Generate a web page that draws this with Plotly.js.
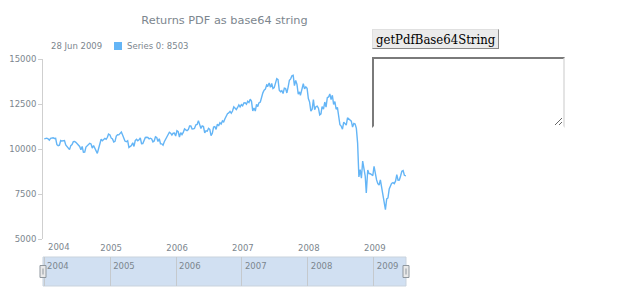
<!DOCTYPE html>
<html>
<head>
<meta charset="utf-8">
<script src="https://cdn.plot.ly/plotly-3.0.1.min.js"></script>
<style>
  html, body { margin: 0; padding: 0; background: #fff; }
  #wrap { position: relative; width: 620px; height: 300px; overflow: hidden; }
  #chart { position: absolute; left: 0; top: 0; width: 620px; height: 300px; }
  #btn { position: absolute; left: 372px; top: 29px; height: 20px; padding: 0 3px; box-sizing: border-box;
         font-family: "DejaVu Serif Condensed", "DejaVu Serif", serif; font-stretch: condensed; font-size: 13px; color: #000; background: #ebebeb;
         border: 1px solid; border-color: #e0e0e0 #8a8a8a #8a8a8a #e0e0e0; border-radius: 0; line-height: 17px; z-index: 5; }
  #ta { position: absolute; left: 372px; top: 57px; width: 193px; height: 71px; box-sizing: border-box; margin: 0;
        border: 2px solid; border-color: #7a7a7a #e4e4e4 #ffffff #7a7a7a; background: #fff; z-index: 5; }
</style>
</head>
<body>
<div id="wrap">
  <div id="chart"></div>
  <button id="btn">getPdfBase64String</button>
  <textarea id="ta"></textarea>
</div>
<script>
// ---------- data ----------
const chartTitle = "Returns PDF as base64 string";
const seriesName = "Series 0";
const dates = [
"2004-01-02","2004-01-09","2004-01-16","2004-01-23","2004-01-30","2004-02-06","2004-02-13","2004-02-20","2004-02-27",
"2004-03-05","2004-03-12","2004-03-19","2004-03-26","2004-04-02","2004-04-09","2004-04-16","2004-04-23","2004-04-30",
"2004-05-07","2004-05-14","2004-05-21","2004-05-28","2004-06-04","2004-06-11","2004-06-18","2004-06-25","2004-07-02",
"2004-07-09","2004-07-16","2004-07-23","2004-07-30","2004-08-06","2004-08-13","2004-08-20","2004-08-27","2004-09-03",
"2004-09-10","2004-09-17","2004-09-24","2004-10-01","2004-10-08","2004-10-15","2004-10-22","2004-10-29","2004-11-05",
"2004-11-12","2004-11-19","2004-11-26","2004-12-03","2004-12-10","2004-12-17","2004-12-23","2004-12-31",
"2005-01-07","2005-01-14","2005-01-21","2005-01-28","2005-02-04","2005-02-11","2005-02-18","2005-02-25","2005-03-04",
"2005-03-11","2005-03-18","2005-03-24","2005-04-01","2005-04-08","2005-04-15","2005-04-22","2005-04-29","2005-05-06",
"2005-05-13","2005-05-20","2005-05-27","2005-06-03","2005-06-10","2005-06-17","2005-06-24","2005-07-01","2005-07-08",
"2005-07-15","2005-07-22","2005-07-29","2005-08-05","2005-08-12","2005-08-19","2005-08-26","2005-09-02","2005-09-09",
"2005-09-16","2005-09-23","2005-09-30","2005-10-07","2005-10-14","2005-10-21","2005-10-28","2005-11-04","2005-11-11",
"2005-11-18","2005-11-25","2005-12-02","2005-12-09","2005-12-16","2005-12-23","2005-12-30",
"2006-01-06","2006-01-13","2006-01-20","2006-01-27","2006-02-03","2006-02-10","2006-02-17","2006-02-24","2006-03-03",
"2006-03-10","2006-03-17","2006-03-24","2006-03-31","2006-04-07","2006-04-13","2006-04-21","2006-04-28","2006-05-05",
"2006-05-12","2006-05-19","2006-05-26","2006-06-02","2006-06-09","2006-06-16","2006-06-23","2006-06-30","2006-07-07",
"2006-07-14","2006-07-21","2006-07-28","2006-08-04","2006-08-11","2006-08-18","2006-08-25","2006-09-01","2006-09-08",
"2006-09-15","2006-09-22","2006-09-29","2006-10-06","2006-10-13","2006-10-20","2006-10-27","2006-11-03","2006-11-10",
"2006-11-17","2006-11-24","2006-12-01","2006-12-08","2006-12-15","2006-12-22","2006-12-29",
"2007-01-05","2007-01-12","2007-01-19","2007-01-26","2007-02-02","2007-02-09","2007-02-16","2007-02-23","2007-03-02",
"2007-03-09","2007-03-16","2007-03-23","2007-03-30","2007-04-05","2007-04-13","2007-04-20","2007-04-27","2007-05-04",
"2007-05-11","2007-05-18","2007-05-25","2007-06-01","2007-06-08","2007-06-15","2007-06-22","2007-06-29","2007-07-06",
"2007-07-13","2007-07-20","2007-07-27","2007-08-03","2007-08-10","2007-08-17","2007-08-24","2007-08-31","2007-09-07",
"2007-09-14","2007-09-21","2007-09-28","2007-10-05","2007-10-12","2007-10-19","2007-10-26","2007-11-02","2007-11-09",
"2007-11-16","2007-11-21","2007-11-30","2007-12-07","2007-12-14","2007-12-21","2007-12-28",
"2008-01-04","2008-01-11","2008-01-18","2008-01-25","2008-02-01","2008-02-08","2008-02-15","2008-02-22","2008-02-29",
"2008-03-07","2008-03-14","2008-03-20","2008-03-28","2008-04-04","2008-04-11","2008-04-18","2008-04-25","2008-05-02",
"2008-05-09","2008-05-16","2008-05-23","2008-05-30","2008-06-06","2008-06-13","2008-06-20","2008-06-27","2008-07-03",
"2008-07-11","2008-07-18","2008-07-25","2008-08-01","2008-08-08","2008-08-15","2008-08-22","2008-08-29","2008-09-05",
"2008-09-12","2008-09-19","2008-09-26","2008-10-03","2008-10-10","2008-10-17","2008-10-24","2008-10-31","2008-11-07",
"2008-11-14","2008-11-20","2008-11-28","2008-12-05","2008-12-12","2008-12-19","2008-12-26",
"2009-01-02","2009-01-09","2009-01-16","2009-01-23","2009-01-30","2009-02-06","2009-02-13","2009-02-20","2009-02-27",
"2009-03-06","2009-03-13","2009-03-20","2009-03-27","2009-04-03","2009-04-09","2009-04-17","2009-04-24","2009-05-01",
"2009-05-08","2009-05-15","2009-05-22","2009-05-29","2009-06-05","2009-06-12","2009-06-19","2009-06-28"
];
const values = [
10560,10580,10600,10568,10488,10593,10628,10620,10584,
10596,10240,10186,10212,10470,10442,10452,10472,10226,
10118,10012,9966,10188,10242,10410,10416,10371,10282,
10214,10140,9962,10140,9815,9825,10110,10195,10260,
10314,10284,10047,10192,10055,9933,9758,10027,10387,
10540,10456,10522,10592,10543,10650,10828,10783,
10603,10558,10393,10427,10716,10796,10785,10841,10941,
10774,10629,10442,10404,10461,10088,10157,10193,10345,
10140,10471,10542,10460,10512,10623,10297,10303,10449,
10641,10651,10641,10558,10600,10559,10397,10447,10679,
10641,10419,10569,10292,10287,10215,10403,10530,10687,
10766,10931,10877,10778,10876,10883,10718,
11012,10959,10667,10907,10793,10919,11115,11061,11022,
11076,11279,11280,11109,11120,11137,11347,11367,11577,
11380,11144,11278,11247,10891,11014,10989,11150,11090,
10739,10868,11219,11240,11088,11381,11284,11464,11392,
11560,11508,11679,11850,11960,12002,12090,11986,12108,
12342,12280,12194,12307,12445,12343,12463,
12398,12556,12566,12488,12653,12581,12768,12647,12114,
12277,12110,12481,12354,12560,12612,12962,13121,13265,
13327,13556,13507,13668,13424,13640,13361,13409,13612,
13908,13851,13266,13182,13240,13079,13379,13358,13114,
13443,13820,13896,14066,14093,13522,13807,13595,13043,
13177,12981,13372,13625,13340,13450,13366,
12800,12606,12099,12207,12743,12182,12348,12381,12266,
11894,11951,12361,12216,12609,12325,12849,12891,13058,
12745,12986,12480,12638,12209,12307,11843,11346,11288,
11100,11496,11370,11326,11734,11659,11628,11544,11220,
11421,11388,11143,10325,8451,8852,8378,9325,8943,
8497,7552,8829,8635,8629,8579,8515,
9034,8599,8281,8077,8001,8280,7850,7366,7063,
6627,7224,7279,7776,8018,8083,8131,8076,8212,
8575,8268,8277,8500,8763,8799,8539,8503
];
const yearTicks = ["2004-01-01","2005-01-01","2006-01-01","2007-01-01","2008-01-01","2009-01-01"];
const yearLabels = ["2004","2005","2006","2007","2008","2009"];
const yTicks = [5000,7500,10000,12500,15000];

// ---------- chart ----------
const gray = "#7c868e";
const blue = "#64b5f6";
const xRange = ["2003-12-26","2009-06-28"];
const monthNames = ["Jan","Feb","Mar","Apr","May","Jun","Jul","Aug","Sep","Oct","Nov","Dec"];
const lastDate = dates[dates.length-1].split("-");
const lastLabel = parseInt(lastDate[2],10) + " " + monthNames[parseInt(lastDate[1],10)-1] + " " + lastDate[0];
const lastValue = values[values.length-1];

const W = 620, H = 300, mL = 43, mR = 214, mT = 59, mB = 14;
const pw = W - mL - mR, ph = H - mT - mB;
const px = v => (v - mL) / pw;          // pixel x -> paper
const py = v => (H - mB - v) / ph;      // pixel y -> paper

// main axis: first label drawn inside the plot edge, others centred on ticks
const mainTickText = yearLabels.map((t, i) => i === 0 ? "" : t);

const traces = [
  { x: dates, y: values, type: "scatter", mode: "lines", xaxis: "x", yaxis: "y",
    line: { color: blue, width: 1.4 }, hoverinfo: "skip", showlegend: false },
  { x: dates, y: values.map(() => null), type: "scatter", mode: "lines", xaxis: "x2", yaxis: "y2",
    hoverinfo: "skip", showlegend: false }
];

const layout = {
  width: W, height: H,
  margin: { l: mL, r: mR, t: mT, b: mB, pad: 0 },
  paper_bgcolor: "rgba(0,0,0,0)", plot_bgcolor: "rgba(0,0,0,0)",
  font: { family: "DejaVu Sans", color: gray, size: 8.5 },
  showlegend: false,
  title: { text: chartTitle, x: 0.5, xref: "paper", xanchor: "center", y: 1 - 20/H, yref: "container", yanchor: "middle",
           font: { family: "DejaVu Sans", size: 11.3, color: gray } },
  xaxis: { type: "date", range: xRange, domain: [0,1], anchor: "y", showgrid: false, zeroline: false, showline: false,
           ticks: "", tickmode: "array", tickvals: yearTicks, ticktext: mainTickText, ticklabelshift: 1, ticklabelstandoff: 2,
           tickfont: { size: 8.5, color: gray }, fixedrange: true },
  yaxis: { range: [5000,15000], domain: [py(239), 1], anchor: "x", showgrid: false, zeroline: false, showline: true,
           linecolor: "#cfcfcf", linewidth: 1, ticks: "outside", ticklen: 4, tickcolor: "#cfcfcf",
           tickmode: "array", tickvals: yTicks, tickformat: "d", tickfont: { size: 8.5, color: gray }, fixedrange: true },
  xaxis2: { type: "date", range: xRange, domain: [0,1], anchor: "y2", side: "top", showgrid: true, gridcolor: "#c5c9cd",
            gridwidth: 1, zeroline: false, showline: false, ticks: "", tickmode: "array", tickvals: yearTicks,
            ticktext: yearLabels, ticklabelposition: "inside right", ticklabelshift: 3,
            tickfont: { size: 8.5, color: gray }, fixedrange: true },
  yaxis2: { range: [0,1], domain: [0, py(257)], anchor: "x2", showgrid: false, zeroline: false, showline: false,
            showticklabels: false, ticks: "", fixedrange: true },
  shapes: [
    { type: "rect", xref: "x2 domain", yref: "y2 domain", x0: 0, x1: 1, y0: 0, y1: 1,
      fillcolor: "#d1e0f2", line: { color: "#c9d3dd", width: 1 }, layer: "below" },
    { type: "rect", xref: "x2 domain", yref: "y2 domain", xsizemode: "pixel", xanchor: 0, x0: -3, x1: 3,
      ysizemode: "pixel", yanchor: 0.5, y0: -6, y1: 6, fillcolor: "#e9e9e9", line: { color: "#8f979e", width: 1 } },
    { type: "line", xref: "x2 domain", yref: "y2 domain", xsizemode: "pixel", xanchor: 0, x0: 0, x1: 0,
      ysizemode: "pixel", yanchor: 0.5, y0: -3, y1: 3, line: { color: "#8f979e", width: 1 } },
    { type: "rect", xref: "x2 domain", yref: "y2 domain", xsizemode: "pixel", xanchor: 1, x0: -3, x1: 3,
      ysizemode: "pixel", yanchor: 0.5, y0: -6, y1: 6, fillcolor: "#e9e9e9", line: { color: "#8f979e", width: 1 } },
    { type: "line", xref: "x2 domain", yref: "y2 domain", xsizemode: "pixel", xanchor: 1, x0: 0, x1: 0,
      ysizemode: "pixel", yanchor: 0.5, y0: -3, y1: 3, line: { color: "#8f979e", width: 1 } },
    { type: "rect", xref: "paper", yref: "paper", x0: px(114), x1: px(122), y0: py(50), y1: py(42),
      fillcolor: blue, line: { width: 0 } }
  ],
  annotations: [
    { text: yearLabels[0], xref: "x", yref: "paper", x: yearTicks[0], y: py(247), xanchor: "left", yanchor: "middle",
      xshift: 2, showarrow: false, font: { size: 8.5, color: gray } },
    { text: lastLabel, xref: "paper", yref: "paper", x: px(49), y: py(46), xanchor: "left", yanchor: "middle",
      showarrow: false, font: { size: 8.5, color: gray } },
    { text: seriesName + ": " + lastValue, xref: "paper", yref: "paper", x: px(124.5), y: py(46), xanchor: "left", yanchor: "middle",
      showarrow: false, font: { size: 8.5, color: gray } }
  ]
};

Plotly.newPlot("chart", traces, layout, { displayModeBar: false, staticPlot: true });
</script>
</body>
</html>
